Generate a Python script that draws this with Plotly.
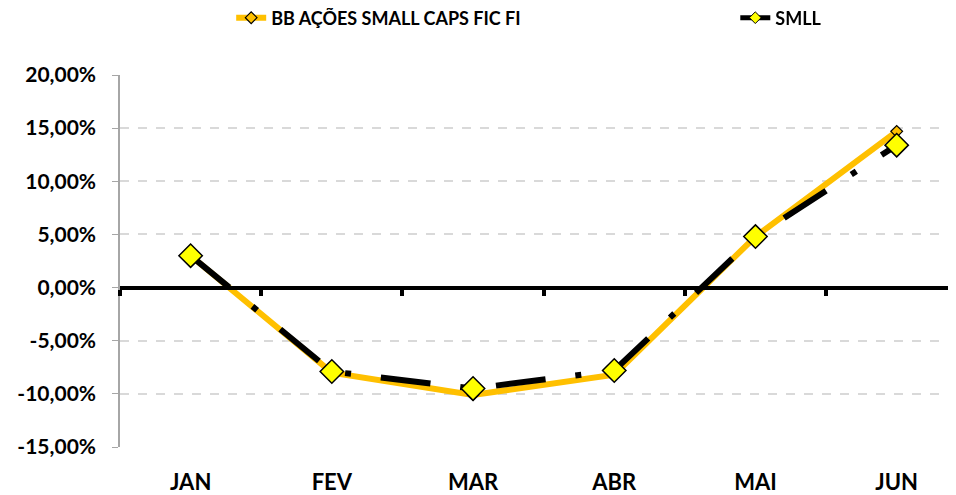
import plotly.graph_objects as go

# Dados mensais (retorno acumulado)
meses = ['JAN', 'FEV', 'MAR', 'ABR', 'MAI', 'JUN']
bb_small_caps = [0.030, -0.080, -0.101, -0.082, 0.048, 0.147]
smll = [0.030, -0.079, -0.095, -0.078, 0.048, 0.134]
y_ticks = [0.20, 0.15, 0.10, 0.05, 0.0, -0.05, -0.10, -0.15]

pos = list(range(len(meses)))
limites = [p - 0.5 for p in pos] + [pos[-1] + 0.5]
y_ticktext = [f"{v * 100:.2f}%".replace('.', ',') for v in y_ticks]

fonte = "Lato"
y_min, y_max = -0.15, 0.20

# a página tem margem de 8px, então a figura é um pouco menor que a janela
W, H = 948, 487
ML, MR, MT, MB = 112, 0, 67, 48
ph = H - MT - MB

fig = go.Figure()

fig.add_trace(go.Scatter(
    x=pos, y=bb_small_caps, name='BB AÇÕES SMALL CAPS FIC FI',
    mode='lines+markers', legend='legend',
    line=dict(color='#FFC000', width=6),
    marker=dict(symbol='diamond', size=9, color='#FFC000',
                line=dict(color='black', width=1.2)),
))
fig.add_trace(go.Scatter(
    x=pos, y=smll, name='SMLL', showlegend=False,
    mode='lines+markers',
    line=dict(color='black', width=6, dash='50px,30px,6px,30px'),
    marker=dict(symbol='diamond', size=18, color='#FFFF00',
                line=dict(color='black', width=1.5)),
))
# entrada de legenda do SMLL (marcador pequeno como no original)
fig.add_trace(go.Scatter(
    x=[None], y=[None], name='SMLL', legend='legend2',
    mode='lines+markers',
    line=dict(color='black', width=5),
    marker=dict(symbol='diamond', size=9, color='#FFFF00',
                line=dict(color='black', width=1)),
))
# traço invisível só para segurar o eixo dos rótulos
fig.add_trace(go.Scatter(
    x=pos, y=smll, xaxis='x2', mode='markers', opacity=0,
    showlegend=False, hoverinfo='skip',
))

x_range = [-0.5, 5.42]
leg_y = 1 + (MT - 10) / ph
leg_font = dict(size=18, family=fonte, weight='bold')

fig.update_layout(
    width=W, height=H,
    plot_bgcolor='white', paper_bgcolor='white',
    margin=dict(l=ML, r=MR, t=MT, b=MB, autoexpand=False),
    font=dict(family=fonte, size=18, color='black'),
    showlegend=True,
    legend=dict(orientation='h', x=0.133, xanchor='left',
                y=leg_y, yanchor='middle', font=leg_font),
    legend2=dict(orientation='h', x=0.736, xanchor='left',
                 y=leg_y, yanchor='middle', font=leg_font),
    xaxis=dict(
        range=x_range, anchor='free', position=(0 - y_min) / (y_max - y_min),
        showgrid=False, zeroline=False,
        showline=True, linecolor='black', linewidth=4,
        tickvals=limites, ticks='outside', ticklen=6, tickwidth=4,
        tickcolor='black', showticklabels=False,
    ),
    xaxis2=dict(
        range=x_range, overlaying='x', anchor='y', side='bottom',
        showgrid=False, zeroline=False, showline=False,
        tickvals=pos, ticktext=meses, ticks='',
        ticklabelstandoff=20,
        tickfont=dict(size=22, family=fonte, weight='bold'),
    ),
    yaxis=dict(
        range=[y_min, y_max], tickvals=y_ticks, ticktext=y_ticktext,
        showgrid=True, gridcolor='#D9D9D9', griddash='dash', gridwidth=1.5,
        zeroline=False,
        showline=True, linecolor='#A6A6A6', linewidth=1.5,
        ticks='outside', ticklen=6, tickcolor='#A6A6A6',
        ticklabelstandoff=12,
        tickfont=dict(size=21, family=fonte, weight='bold'),
    ),
)

fig.write_html("out.html")
